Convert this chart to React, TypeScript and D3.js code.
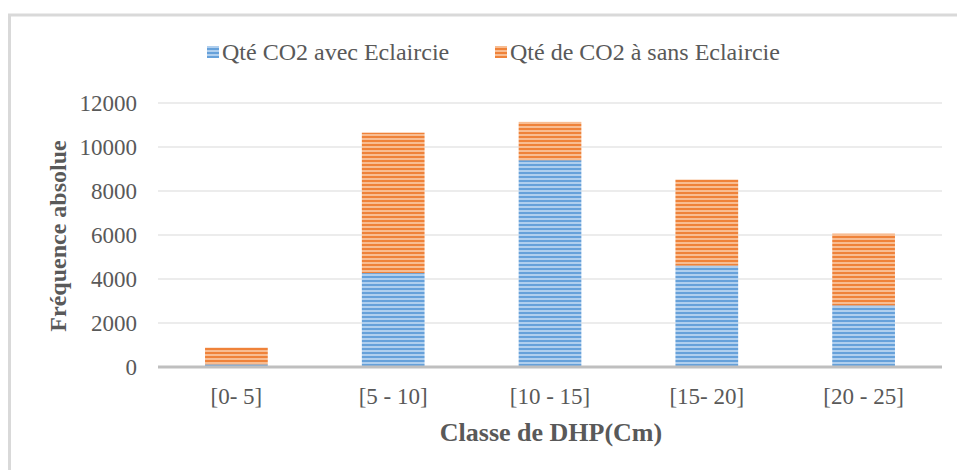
import React from "react";
import * as d3 from "d3";

const categories = ["[0- 5]", "[5 - 10]", "[10 - 15]", "[15- 20]", "[20 - 25]"];
const avecEclaircie = [120, 4270, 9400, 4610, 2800];
const sansEclaircie = [760, 6380, 1740, 3910, 3260];
const seriesNames = ["Qté CO2 avec Eclaircie", "Qté de CO2 à sans Eclaircie"];
const yTicks = [0, 2000, 4000, 6000, 8000, 10000, 12000];

const W = 957;
const H = 470;
const plot = { left: 158, right: 942, top: 103, bottom: 367 };
const textColor = "#595959";
const font = "'Liberation Serif', 'Times New Roman', serif";

export default function App() {
  const x = d3
    .scaleBand<string>()
    .domain(categories)
    .range([plot.left, plot.right])
    .paddingInner(0.6)
    .paddingOuter(0.3);
  const y = d3.scaleLinear().domain([0, 12000]).range([plot.bottom, plot.top]);

  const rows = categories.map((c, i) => ({ cat: c, a: avecEclaircie[i], s: sansEclaircie[i] }));
  const stack = d3.stack<any>().keys(["a", "s"])(rows as any);
  const fills = ["url(#stripeBlue)", "url(#stripeOrange)"];

  return (
    <div style={{ position: "fixed", left: 0, top: 0 }}>
      <svg width={W} height={H} style={{ display: "block", background: "#fff" }}>
        <defs>
          <pattern id="stripeBlue" width="8" height="4" patternUnits="userSpaceOnUse">
            <rect width="8" height="4" fill="#b0cfee" />
            <rect width="8" height="2" fill="#66a1da" />
          </pattern>
          <pattern id="stripeOrange" width="8" height="4" patternUnits="userSpaceOnUse">
            <rect width="8" height="4" fill="#f8bd92" />
            <rect width="8" height="2" fill="#ef8239" />
          </pattern>
        </defs>
        {/* chart frame */}
        <line x1={9.5} x2={9.5} y1={14} y2={H} stroke="#d9d9d9" strokeWidth={3} />
        <line x1={8} x2={W} y1={15} y2={15} stroke="#d9d9d9" strokeWidth={3} />

        {/* gridlines */}
        {yTicks.filter((t) => t > 0).map((t) => (
          <line key={t} x1={plot.left} x2={plot.right} y1={y(t)} y2={y(t)} stroke="#d9d9d9" strokeWidth={1} />
        ))}
        {/* y tick labels */}
        {yTicks.map((t) => (
          <text key={t} x={137} y={y(t)} dy="0.35em" textAnchor="end" fontFamily={font} fontSize={23} fill={textColor}>
            {t}
          </text>
        ))}

        {/* bars */}
        {stack.map((layer, li) =>
          layer.map((d, i) => (
            <rect
              key={li + "-" + i}
              x={x(categories[i])}
              width={x.bandwidth()}
              y={y(d[1])}
              height={y(d[0]) - y(d[1])}
              fill={fills[li]}
            />
          ))
        )}

        {/* baseline */}
        <line x1={plot.left} x2={plot.right} y1={y(0)} y2={y(0)} stroke="#bfbfbf" strokeWidth={3} />

        {/* x labels */}
        {categories.map((c) => (
          <text key={c} x={(x(c) as number) + x.bandwidth() / 2} y={404} textAnchor="middle" fontFamily={font} fontSize={23} fill={textColor}>
            {c}
          </text>
        ))}

        {/* axis titles */}
        <text x={551} y={441} textAnchor="middle" fontFamily={font} fontSize={26} fontWeight="bold" fill={textColor}>
          Classe de DHP(Cm)
        </text>
        <text
          transform={`translate(66, ${236}) rotate(-90)`}
          textAnchor="middle"
          fontFamily={font}
          fontSize={24}
          fontWeight="bold"
          fill={textColor}
        >
          Fréquence absolue
        </text>

        {/* legend */}
        <rect x={207} y={46} width={12} height={12} fill="url(#stripeBlue)" />
        <text x={222} y={60} fontFamily={font} fontSize={24} fill={textColor}>
          {seriesNames[0]}
        </text>
        <rect x={495} y={46} width={12} height={12} fill="url(#stripeOrange)" />
        <text x={510} y={60} fontFamily={font} fontSize={24} fill={textColor}>
          {seriesNames[1]}
        </text>
      </svg>
    </div>
  );
}
